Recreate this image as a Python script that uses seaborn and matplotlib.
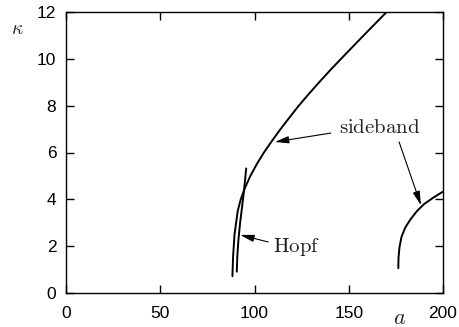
import numpy as np
import pandas as pd
import matplotlib
matplotlib.use("Agg")
import matplotlib.pyplot as plt
import seaborn as sns

# Sideband curve (main branch)
sb1_a = [88.3, 88.6, 89.4, 91.1, 92.7, 95.0, 97.8, 101.2, 105.0, 109.3, 113.8,
         118.6, 123.5, 128.8, 134.3, 140.0, 145.9, 151.9, 157.9, 164.0, 170.1]
sb1_k = [0.72, 1.5, 2.5, 3.5, 4.0, 4.5, 5.0, 5.5, 6.0, 6.5, 7.0,
         7.5, 8.0, 8.5, 9.0, 9.5, 10.0, 10.5, 11.0, 11.5, 12.0]
# Sideband curve (second branch)
sb2_a = [176.3, 176.4, 176.9, 178.0, 180.0, 182.8, 186.2, 190.0, 195.0, 200.0]
sb2_k = [1.06, 1.5, 1.95, 2.4, 2.8, 3.15, 3.5, 3.8, 4.08, 4.33]
# Hopf curve
hopf_a = [90.6, 90.9, 91.5, 92.3, 93.2, 94.4, 95.6]
hopf_k = [0.91, 1.6, 2.3, 2.95, 3.54, 4.35, 5.32]

xticks = [0, 50, 100, 150, 200]
yticks = [0, 2, 4, 6, 8, 10, 12]

df = pd.concat([
    pd.DataFrame({"a": sb1_a, "k": sb1_k, "curve": "sideband1"}),
    pd.DataFrame({"a": sb2_a, "k": sb2_k, "curve": "sideband2"}),
    pd.DataFrame({"a": hopf_a, "k": hopf_k, "curve": "hopf"}),
], ignore_index=True)

sns.set_theme(style="ticks")
plt.rcParams["font.family"] = ["Liberation Sans", "DejaVu Sans"]
plt.rcParams["mathtext.fontset"] = "cm"

fig = plt.figure(figsize=(4.6, 3.27), dpi=100)
ax = fig.add_axes([66/460, 1-293/327, (443-66)/460, (293-12)/327])

for name, g in df.groupby("curve", sort=False):
    sns.lineplot(data=g, x="a", y="k", sort=False, estimator=None,
                 color="black", lw=1.4, ax=ax, legend=False)

ax.set_xlim(0, 200)
ax.set_ylim(0, 12)
ax.set_xticks(xticks)
ax.set_yticks(yticks)
ax.set_xlabel("")
ax.set_ylabel("")
ax.tick_params(direction="in", length=5.5, width=1, top=True, right=True,
               labelsize=12.5, colors="black", pad=7)
ax.tick_params(axis="x", pad=9)
for s in ax.spines.values():
    s.set_color("black")
    s.set_linewidth(1.0)

fig.text(17/460, 1-30/327, r"$\kappa$", fontsize=14, ha="center", va="center")
fig.text(400/460, 1-318/327, r"$a$", fontsize=16, ha="center", va="center")

ap = dict(arrowstyle="-|>,head_length=0.7,head_width=0.18", color="black",
          lw=0.8, shrinkA=0, shrinkB=0)
ax.text(166.6, 7.05, r"$\mathrm{sideband}$", fontsize=15, ha="center", va="center", color="#222222")
ax.annotate("", xy=(110.8, 6.45), xytext=(140.5, 6.83), arrowprops=ap)
ax.annotate("", xy=(188.3, 3.75), xytext=(176.7, 6.45), arrowprops=ap)
ax.text(109.8, 1.95, r"$\mathrm{Hopf}$", fontsize=15, ha="left", va="center", color="#222222")
ax.annotate("", xy=(92.4, 2.48), xytext=(107.2, 2.18), arrowprops=ap)

fig.savefig("out.png", dpi=100)
